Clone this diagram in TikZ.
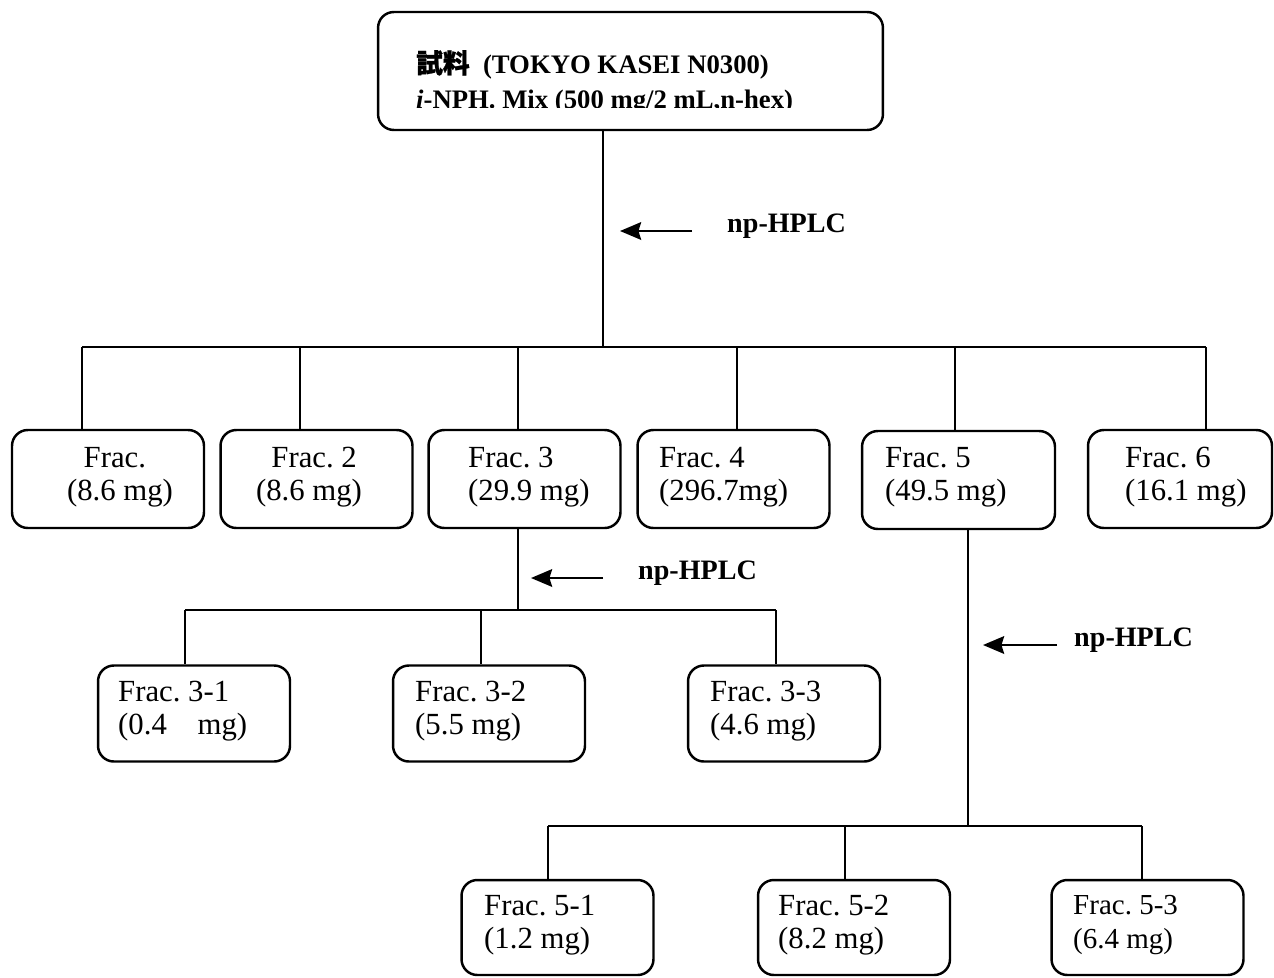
\documentclass[tikz,border=0pt]{standalone}
\usepackage{fontspec}
\setmainfont{Liberation Serif}
\newfontfamily\cjk{Noto Sans CJK JP}[FakeBold=1]
\usetikzlibrary{arrows.meta}
\frenchspacing

\begin{document}
\begin{tikzpicture}[x=0.02cm, y=-0.02cm, line width=1.4pt]
    \tikzstyle{box}=[draw, rounded corners=9pt, inner sep=0pt]
    \tikzstyle{frac}=[box, minimum width=3.84cm, minimum height=1.96cm]
    \tikzstyle{subfrac}=[frac, minimum height=1.92cm]
    \tikzstyle{fractxt}=[inner sep=0pt, align=left, anchor=west, font=\fontsize{17.5}{19}\selectfont]
    \tikzstyle{toptxt}=[inner sep=0pt, anchor=base west, font=\bfseries\fontsize{15.2}{17}\selectfont]
    \tikzstyle{hplc}=[inner sep=0pt, anchor=west, font=\bfseries\fontsize{16}{18}\selectfont]
    \tikzstyle{sep arrow}=[-{Stealth[length=12pt, width=10pt, inset=1.5pt]}]

    \useasboundingbox (0,0) rectangle (1274,977);

    % Sample box
    \node[box, minimum width=10.1cm, minimum height=2.36cm] (S) at (630.5,71) {};
    \node[toptxt] (S-1) at (415,73) {{\cjk 試料}\ \ (TOKYO KASEI N0300)};
    \begin{scope}
        \clip (380,80) rectangle (880,107);
        \node[toptxt] (S-2) at (415,108) {\textit{i}-NPH. Mix (500 mg/2 mL,n-hex)};
    \end{scope}

    % First separation
    \coordinate (J) at (603,347);
    \draw (S.south -| J) -- (J);
    \coordinate (A1) at (692,231);
    \coordinate (A1e) at (620,231);
    \draw[sep arrow] (A1) -- (A1e);
    \node[hplc] (H1) at (726,226) {np-HPLC};

    % Fractions 1-6
    \node[frac] (F1) at (108,479) {};
    \node[frac] (F2) at (316.5,479) {};
    \node[frac] (F3) at (524.5,479) {};
    \node[frac] (F4) at (733.5,479) {};
    \node[frac, minimum width=3.86cm] (F5) at (958.5,480) {};
    \node[frac, minimum width=3.68cm] (F6) at (1180,479) {};
    \node[fractxt, anchor=center, align=center] (F1t) at (120,477) {Frac.\,\,\\(8.6 mg)};
    \node[fractxt, anchor=center, align=center] (F2t) at (309,477) {\,\,Frac. 2\\(8.6 mg)};
    \node[fractxt] (F3t) at (467,477) {Frac. 3\\(29.9 mg)};
    \node[fractxt] (F4t) at (658,477) {Frac. 4\\(296.7mg)};
    \node[fractxt] (F5t) at (884,477) {Frac. 5\\(49.5 mg)};
    \node[fractxt] (F6t) at (1124,477) {Frac. 6\\(16.1 mg)};

    \foreach \i/\x in {1/82,2/300,3/518,4/737,5/955,6/1206}
        \coordinate (b\i) at (\x,347);
    \draw (b1) -- (b6);
    \foreach \i in {1,...,6}
        \draw (b\i) -- (b\i |- F\i.north);

    % Frac. 3 separation
    \coordinate (J3) at (518,610);
    \draw (F3.south -| J3) -- (J3);
    \coordinate (A2) at (603,578);
    \coordinate (A2e) at (531,578);
    \draw[sep arrow] (A2) -- (A2e);
    \node[hplc] (H2) at (637,573) {np-HPLC};

    \node[subfrac] (F3-1) at (194,713.5) {};
    \node[subfrac] (F3-2) at (489,713.5) {};
    \node[subfrac] (F3-3) at (784,713.5) {};
    \node[fractxt] (F3-1t) at (117,711) {Frac. 3-1\\(0.4\quad mg)};
    \node[fractxt] (F3-2t) at (414,711) {Frac. 3-2\\(5.5 mg)};
    \node[fractxt] (F3-3t) at (709,711) {Frac. 3-3\\(4.6 mg)};

    \foreach \i/\x in {1/185,2/481,3/776}
        \coordinate (c\i) at (\x,610);
    \draw (c1) -- (c3);
    \foreach \i in {1,2,3}
        \draw (c\i) -- (c\i |- F3-\i.north);

    % Frac. 5 separation
    \coordinate (J5) at (968,826);
    \draw (F5.south -| J5) -- (J5);
    \coordinate (A3) at (1057,645);
    \coordinate (A3e) at (983,645);
    \draw[sep arrow] (A3) -- (A3e);
    \node[hplc] (H3) at (1073,640) {np-HPLC};

    \node[subfrac, minimum height=1.9cm] (F5-1) at (557.5,927.5) {};
    \node[subfrac, minimum height=1.9cm] (F5-2) at (854,927.5) {};
    \node[subfrac, minimum height=1.9cm] (F5-3) at (1147.5,927.5) {};
    \node[fractxt] (F5-1t) at (483,925) {Frac. 5-1\\(1.2 mg)};
    \node[fractxt] (F5-2t) at (777,925) {Frac. 5-2\\(8.2 mg)};
    \node[fractxt, font=\fontsize{16.5}{19}\selectfont] (F5-3t) at (1072,925) {Frac. 5-3\\(6.4 mg)};

    \foreach \i/\x in {1/548,2/845,3/1142}
        \coordinate (d\i) at (\x,826);
    \draw (d1) -- (d3);
    \foreach \i in {1,2,3}
        \draw (d\i) -- (d\i |- F5-\i.north);
\end{tikzpicture}
\end{document}
